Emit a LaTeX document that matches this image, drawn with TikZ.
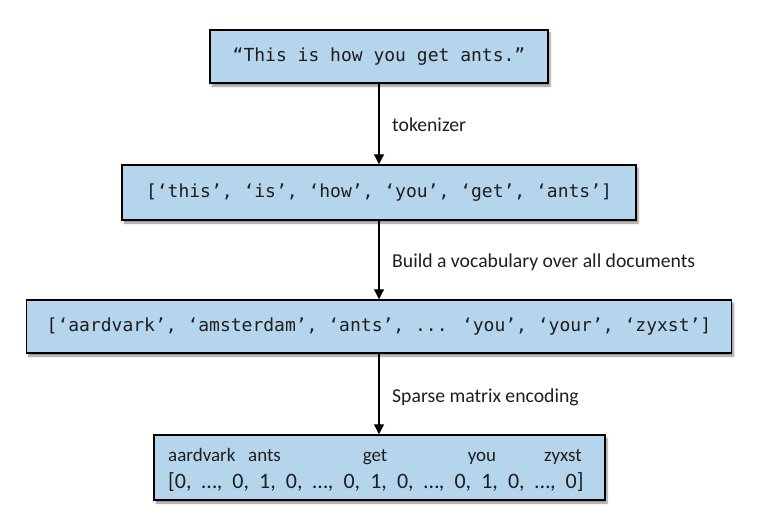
\documentclass[tikz,border=0pt]{standalone}
\usepackage{fontspec}
\setmainfont{Carlito}
\newfontfamily\codefont{DejaVu Sans Mono}
\usetikzlibrary{shadows.blur,arrows.meta}
\definecolor{boxblue}{HTML}{B5D5EC}
\definecolor{ink}{HTML}{1E1E1E}
\tikzset{
  flowbox/.style={draw=black, line width=1.5pt, fill=boxblue, inner sep=0pt,
    blur shadow={shadow xshift=2pt, shadow yshift=-3pt, shadow blur steps=6, shadow opacity=45},
    text=ink, font=\codefont\fontsize{18}{20}\selectfont},
  flowarrow/.style={line width=1.2pt, -{Triangle[width=10pt,length=10pt]}},
  steplabel/.style={anchor=west, inner sep=0pt, text=ink, font=\fontsize{19.7}{22}\selectfont},
  vecword/.style={inner sep=0pt, text=ink, font=\fontsize{19}{22}\selectfont}
}
\begin{document}
\begin{tikzpicture}[x=1pt,y=-1pt]
\useasboundingbox (0,0) rectangle (765,524);
\node[flowbox, minimum width=338pt, minimum height=53pt] (b1) at (379,56.5) {“This is how you get ants.”};
\node[flowbox, minimum width=514pt, minimum height=55pt] (b2) at (379,192.5) {[‘this’, ‘is’, ‘how’, ‘you’, ‘get’, ‘ants’]};
\node[flowbox, minimum width=705pt, minimum height=53pt] (b3) at (379,326.5) {[‘aardvark’, ‘amsterdam’, ‘ants’, ... ‘you’, ‘your’, ‘zyxst’]};
\node[flowbox, minimum width=451pt, minimum height=65pt] (b4) at (379.5,467.5) {};
\node[vecword, anchor=base west] (w1) at (168,461) {aardvark};
\node[vecword, anchor=base west] (w2) at (248,461) {ants};
\node[vecword, anchor=base] (w3) at (375,461) {get};
\node[vecword, anchor=base] (w4) at (482,461) {you};
\node[vecword, anchor=base east] (w5) at (582,461) {zyxst};
\node[vecword, anchor=base west, font=\fontsize{22}{24}\selectfont] (vec) at (168,488) {\spaceskip=10.1pt\relax [0, …, 0, 1, 0, …, 0, 1, 0, …, 0, 1, 0, …, 0]};
\draw[flowarrow] (b1.south) -- (b2.north);
\draw[flowarrow] (b2.south) -- (b3.north);
\draw[flowarrow] (b3.south) -- (b3.south |- b4.north);
\node[steplabel] (l1) at (392,125) {tokenizer};
\node[steplabel] (l2) at (392,262) {Build a vocabulary over all documents};
\node[steplabel] (l3) at (392,397) {Sparse matrix encoding};
\end{tikzpicture}
\end{document}
